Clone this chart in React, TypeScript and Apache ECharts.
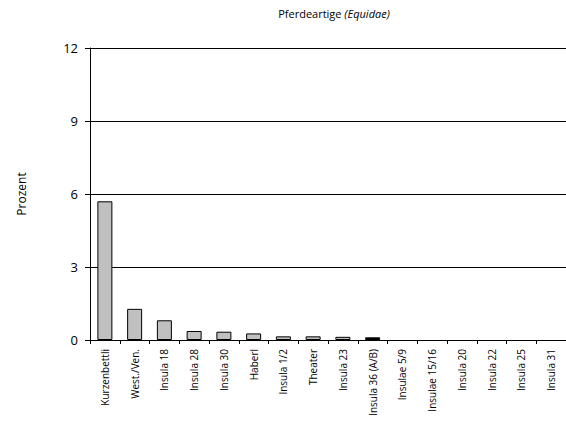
import React, { useEffect, useRef } from "react";
import * as echarts from "echarts";

const categories = [
  "Kurzenbettli", "West./Ven.", "Insula 18", "Insula 28", "Insula 30", "Haberl",
  "Insula 1/2", "Theater", "Insula 23", "Insula 36 (A/B)", "Insulae 5/9",
  "Insulae 15/16", "Insula 20", "Insula 22", "Insula 25", "Insula 31",
];
const values = [5.7, 1.28, 0.81, 0.37, 0.34, 0.27, 0.15, 0.15, 0.13, 0.11, 0, 0, 0, 0, 0, 0];
const highlighted = ["Insula 36 (A/B)"];
const yTicks = { min: 0, max: 12, interval: 3 };

export default function App() {
  const ref = useRef<HTMLDivElement>(null);
  useEffect(() => {
    const chart = echarts.init(ref.current!, null, { renderer: "svg" });
    const font = "Open Sans";
    chart.setOption({
      animation: false,
      textStyle: { fontFamily: font },
      title: {
        text: "{a|Pferdeartige }{b|(Equidae)}",
        left: 329,
        textAlign: "center",
        top: 3,
        textStyle: {
          fontWeight: "normal",
          rich: {
            a: { fontFamily: font, fontSize: 11, color: "#000", fontWeight: "normal" },
            b: { fontFamily: font, fontSize: 11, color: "#000", fontStyle: "italic", fontWeight: "normal" },
          },
        },
      },
      grid: { left: 90, right: 0, top: 48, bottom: 97 },
      xAxis: {
        type: "category",
        data: categories,
        axisLine: { lineStyle: { color: "#000", width: 1 } },
        axisTick: { show: true, alignWithLabel: false, length: 4, lineStyle: { color: "#000" } },
        axisLabel: { interval: 0, rotate: 90, fontSize: 10, color: "#000", fontFamily: font, margin: 9 },
      },
      yAxis: {
        type: "value",
        min: yTicks.min,
        max: yTicks.max,
        interval: yTicks.interval,
        name: "Prozent",
        nameLocation: "middle",
        nameGap: 63,
        nameRotate: 90,
        nameTextStyle: { fontSize: 12, color: "#000", fontFamily: font },
        axisLine: { show: true, lineStyle: { color: "#000", width: 1 } },
        axisTick: { show: true, length: 5, lineStyle: { color: "#000" } },
        axisLabel: { fontSize: 13, color: "#000", fontFamily: font, margin: 12 },
        splitLine: { show: true, lineStyle: { color: "#000", width: 1 } },
      },
      series: [
        {
          type: "bar",
          barWidth: 15,
          data: values.map((v, i) => ({
            value: v,
            itemStyle: {
              color: highlighted.includes(categories[i]) ? "#000" : "#c0c0c0",
              borderColor: "#000",
              borderWidth: v === 0 ? 0 : 1,
            },
          })),
        },
      ],
    });
    return () => chart.dispose();
  }, []);
  return <div ref={ref} style={{ width: 566, height: 437, position: "absolute", left: 0, top: 0 }} />;
}
